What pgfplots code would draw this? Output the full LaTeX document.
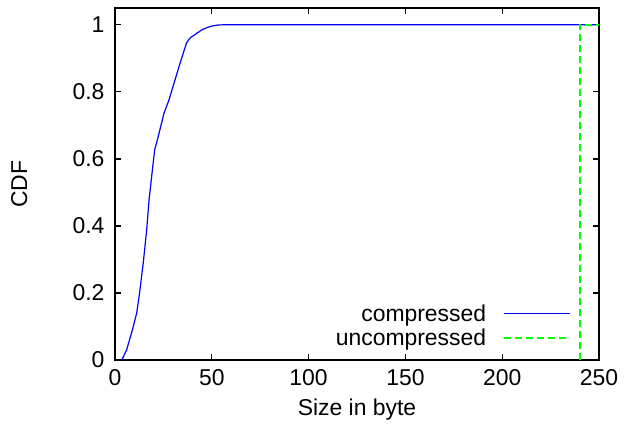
\documentclass[border=0pt]{standalone}
\usepackage{fontspec}
\setmainfont{Liberation Sans}
\usepackage{pgfplots}
\pgfplotsset{compat=1.18}

\begin{document}
\begin{tikzpicture}
\begin{axis}[
    scale only axis,
    width=484bp, height=352bp,
    xmin=0, xmax=250,
    ymin=0, ymax=1.05,
    xtick={0,50,...,250},
    ytick={0,0.2,...,1},
    tick align=inside,
    major tick length=6bp,
    axis line style={line width=1.3bp},
    every tick/.style={black, line width=1.3bp},
    /pgf/number format/assume math mode=true,
    tick label style={font=\fontsize{23}{27}\selectfont},
    xticklabel style={yshift=-6bp},
    yticklabel style={xshift=-7bp},
    label style={font=\fontsize{23}{27}\selectfont},
    xlabel={Size in byte},
    ylabel={CDF},
    xlabel style={at={(axis description cs:0.5,-0.142)}, anchor=center},
    ylabel style={at={(axis description cs:-0.198,0.5)}, anchor=center},
    legend style={draw=none, fill=none, font=\fontsize{23}{27}\selectfont,
        at={(0.949,0.026)}, anchor=south east, row sep=2bp,
        cells={anchor=east}},
    legend plot pos=right,
    legend image code/.code={
        \path (0bp,0bp);
        \draw[mark repeat=2,mark phase=2,#1] plot coordinates {(15bp,0bp) (48bp,0bp) (81bp,0bp)};},
]
\addplot[blue, line width=1.2bp] coordinates {
    (3.5,0) (6,0.03) (9,0.09) (11.2,0.14) (12.7,0.2) (14.6,0.29)
    (16.4,0.39) (17.6,0.478) (19.5,0.577) (20.5,0.627) (21.9,0.657)
    (23.6,0.696) (25.3,0.736) (27.9,0.776) (33.1,0.876) (36.9,0.945)
    (38,0.955) (39.1,0.962) (42.6,0.976) (45,0.985) (47.7,0.992)
    (50,0.996) (52.9,0.999) (56,1) (250,1)
};
\addlegendentry{compressed}
\addplot[green, line width=2bp, dash pattern=on 7bp off 4bp] coordinates {
    (240,0) (240,1) (250,1)
};
\addlegendentry{uncompressed}
\end{axis}
\pgfresetboundingbox
\path[use as bounding box] (-115bp,-70bp) rectangle (509bp,360bp);
\end{tikzpicture}
\end{document}
